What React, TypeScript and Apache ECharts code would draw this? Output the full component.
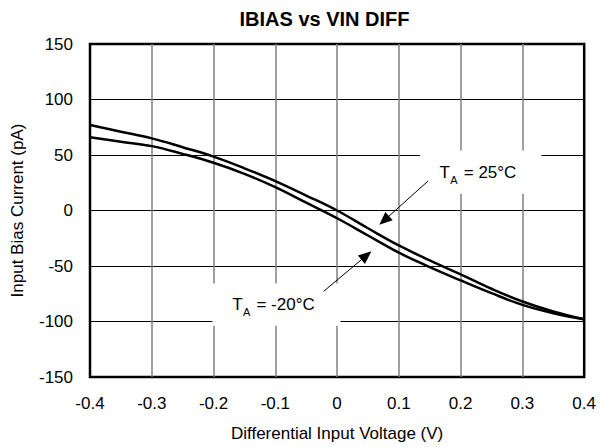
import React, { useEffect, useRef } from "react";
import * as echarts from "echarts";

const TITLE = "IBIAS vs VIN DIFF";
const X_NAME = "Differential Input Voltage (V)";
const Y_NAME = "Input Bias Current (pA)";
const X_VALUES = [-0.4, -0.35, -0.3, -0.25, -0.2, -0.15, -0.1, -0.05, 0, 0.05, 0.1, 0.15, 0.2, 0.25, 0.3, 0.35, 0.4];
const IBIAS_25C = [77, 71, 65, 57, 48.5, 38, 26.5, 13.5, 0, -16, -31.5, -45, -57.5, -70.5, -82, -91, -98];
const IBIAS_M20C = [66, 62, 58, 51, 43, 33, 21, 7, -7, -22.5, -38, -51, -63, -74.5, -85, -92.5, -98];

const FONT = "Liberation Sans, Arial, Helvetica, sans-serif";

export default function App() {
  const ref = useRef<HTMLDivElement>(null);
  useEffect(() => {
    if (!ref.current) return;
    const chart = echarts.init(ref.current, null, { renderer: "svg" });
    const mk = (vals: number[]) => X_VALUES.map((x, i) => [x, vals[i]]);
    chart.setOption({
      animation: false,
      backgroundColor: "#fff",
      textStyle: { fontFamily: FONT },
      title: {
        text: TITLE,
        left: 324.5,
        textAlign: "center",
        top: 9,
        padding: 0,
        textStyle: { fontFamily: FONT, fontWeight: "bold", fontSize: 20, color: "#000" },
      },
      grid: {
        left: 90,
        right: 12,
        top: 44,
        bottom: 65,
        show: true,
        borderColor: "#000",
        borderWidth: 2.5,
        backgroundColor: "transparent",
      },
      xAxis: {
        type: "value",
        min: -0.4,
        max: 0.4,
        interval: 0.1,
        name: X_NAME,
        nameLocation: "middle",
        nameGap: 48,
        nameTextStyle: { fontFamily: FONT, fontSize: 17, color: "#000" },
        axisLine: { show: false },
        axisTick: { show: false },
        axisLabel: {
          color: "#000",
          fontSize: 17,
          fontFamily: FONT,
          margin: 18,
          formatter: (v: number) => String(Math.round(v * 10) / 10),
        },
        splitLine: { show: true, showMinLine: false, showMaxLine: false, lineStyle: { color: "#808080", width: 1.5 } },
      },
      yAxis: {
        type: "value",
        min: -150,
        max: 150,
        interval: 50,
        name: Y_NAME,
        nameLocation: "middle",
        nameGap: 64,
        nameTextStyle: { fontFamily: FONT, fontSize: 17, color: "#000" },
        axisLine: { show: false },
        axisTick: { show: false },
        axisLabel: { color: "#000", fontSize: 17, fontFamily: FONT, margin: 17 },
        splitLine: { show: true, showMinLine: false, showMaxLine: false, lineStyle: { color: "#000", width: 1 } },
      },
      series: [
        {
          name: "TA = 25°C",
          type: "line",
          data: mk(IBIAS_25C),
          smooth: 0.4,
          showSymbol: false,
          lineStyle: { color: "#000", width: 2.5 },
          z: 3,
        },
        {
          name: "TA = -20°C",
          type: "line",
          data: mk(IBIAS_M20C),
          smooth: 0.4,
          showSymbol: false,
          lineStyle: { color: "#000", width: 2.5 },
          z: 3,
        },
      ],
    });

    const px = (x: number, v: number) => chart.convertToPixel({ gridIndex: 0 }, [x, v]) as number[];
    const box = (x0: number, v0: number, x1: number, v1: number) => {
      const a = px(x0, v0);
      const b = px(x1, v1);
      return {
        type: "rect",
        z: 50,
        shape: { x: Math.min(a[0], b[0]), y: Math.min(a[1], b[1]), width: Math.abs(b[0] - a[0]), height: Math.abs(b[1] - a[1]) },
        style: { fill: "#fff" },
      };
    };
    const label = (x: number, v: number, rest: string) => {
      const p = px(x, v);
      return {
        type: "group",
        z: 60,
        children: [
          { type: "text", z: 60, x: p[0], y: p[1], style: { text: "T", font: `17px ${FONT}`, fill: "#000", verticalAlign: "middle", align: "left" } },
          { type: "text", z: 60, x: p[0] + 10.8, y: p[1] + 8, style: { text: "A", font: `11px ${FONT}`, fill: "#000", verticalAlign: "middle", align: "left" } },
          { type: "text", z: 60, x: p[0] + 19.5, y: p[1], style: { text: rest, font: `17px ${FONT}`, fill: "#000", verticalAlign: "middle", align: "left" } },
        ],
      };
    };
    const arrow = (fx: number, fv: number, tx: number, tv: number) => {
      const f = px(fx, fv);
      const t = px(tx, tv);
      const dx = t[0] - f[0];
      const dy = t[1] - f[1];
      const len = Math.sqrt(dx * dx + dy * dy);
      const ux = dx / len;
      const uy = dy / len;
      const L = 13;
      const W = 5.5;
      const bx = t[0] - ux * L;
      const by = t[1] - uy * L;
      return {
        type: "group",
        z: 60,
        children: [
          { type: "line", z: 60, shape: { x1: f[0], y1: f[1], x2: bx, y2: by }, style: { stroke: "#000", lineWidth: 1 } },
          {
            type: "polygon",
            z: 60,
            shape: { points: [[t[0], t[1]], [bx - uy * W, by + ux * W], [bx + uy * W, by - ux * W]] },
            style: { fill: "#000" },
          },
        ],
      };
    };

    chart.setOption({
      graphic: [
        box(0.1344, 54.1, 0.3308, 15.1),
        box(-0.202, -65.7, 0.0056, -103.8),
        label(0.1658, 34.6, " = 25°C"),
        label(-0.1698, -84.3, " = -20°C"),
        arrow(0.1473, 26.6, 0.0684, -12.9),
        arrow(-0.0217, -72.8, 0.0555, -36.8),
      ],
    });

    return () => chart.dispose();
  }, []);
  return <div ref={ref} style={{ position: "fixed", left: 0, top: 0, width: 599, height: 447 }} />;
}
